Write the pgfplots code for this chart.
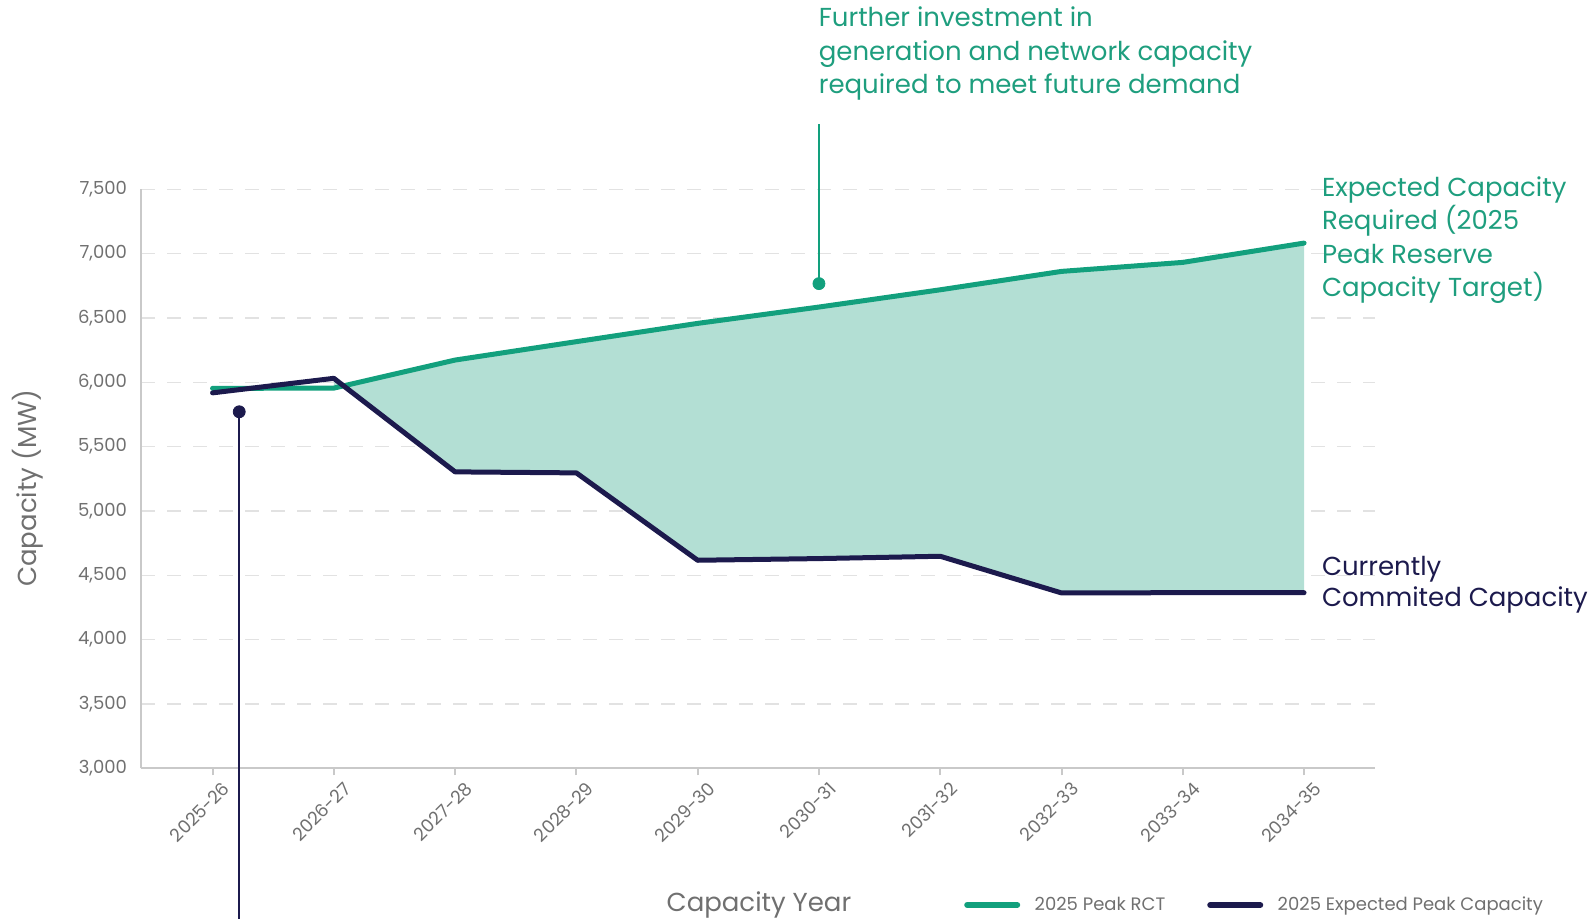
\documentclass[border=0pt]{standalone}
\usepackage{pgfplots}
\pgfplotsset{compat=1.18}
\usepackage{fontspec}
\setmainfont{Poppins}
\definecolor{rctgreen}{HTML}{12A07D}
\definecolor{navyc}{HTML}{1C1A4D}
\definecolor{fillgreen}{HTML}{B3DFD4}
\definecolor{txtgreen}{HTML}{1E9E7E}
\definecolor{axgray}{HTML}{C9C9C9}
\definecolor{gridgray}{HTML}{E2E2E2}
\definecolor{lblgray}{HTML}{707070}
\pgfplotstableread{
x y
0 5953
1 5955
2 6173
3 6316
4 6458
5 6585
6 6719
7 6862
8 6932
9 7082
}\rct
\pgfplotstableread{
x y
0 5918
1 6031
2 5304
3 5296
4 4617
5 4630
6 4648
7 4363
8 4365
9 4365
}\expc
\begin{document}
\begin{tikzpicture}
\path[use as bounding box] (-70.5pt,-74.85pt) rectangle (726.5pt,384.15pt);
\begin{axis}[
  at={(0pt,0pt)}, anchor=south west,
  scale only axis, width=617pt, height=289.5pt,
  xmin=-0.59, xmax=9.585, ymin=3000, ymax=7500,
  clip=false,
  axis x line*=bottom, axis y line*=left,
  axis line style={-, draw=axgray, line width=1pt},
  xtick={0,...,9},
  xticklabels={2025-26,2026-27,2027-28,2028-29,2029-30,2030-31,2031-32,2032-33,2033-34,2034-35},
  ytick={3000,3500,...,7500},
  tick align=outside, major tick length=3.5pt,
  xtick style={draw=axgray, line width=1pt},
  ytick style={draw=none},
  ymajorgrids,
  grid style={dash pattern=on 7pt off 6pt, draw=gridgray, line width=0.8pt},
  /pgf/number format/.cd, 1000 sep={,}, assume math mode=true, /pgfplots/.cd,
  tick label style={font=\fontsize{9}{11}\selectfont, text=lblgray},
  xticklabel style={inner sep=0pt, xshift=4.5pt, yshift=-2.5pt, anchor=north east, rotate=45},
  ylabel={Capacity (MW)},
  ylabel style={at={(axis description cs:-0.092,0.484)}, anchor=center, font=\fontsize{13}{16}\selectfont, text=lblgray},
  xlabel={Capacity Year},
  xlabel style={at={(axis description cs:0.5008,-0.2465)}, anchor=base, font=\fontsize{13}{16}\selectfont, text=lblgray},
  legend style={at={(axis description cs:0.6668,-0.236)}, anchor=west, draw=none, fill=none,
    font=\fontsize{9}{11}\selectfont, text=lblgray, inner sep=0pt,
    /tikz/every even column/.append style={column sep=19pt}},
  legend columns=2, legend cell align=left,
  legend image code/.code={\draw[#1, line width=3pt, line cap=round] (1.5pt,0pt) -- (26.5pt,0pt); \path (32pt,0pt);},
]
% shaded gap
\addplot[fill=fillgreen, draw=none, forget plot] coordinates {
 (1,5955) (2,6173) (3,6316) (4,6458) (5,6585) (6,6719) (7,6862) (8,6932) (9,7082)
 (9,4365) (8,4365) (7,4363) (6,4648) (5,4630) (4,4617) (3,5296) (2,5304) (1,6031)} -- cycle;
% pins
\addplot[navyc, line width=1pt, forget plot] coordinates {(0.22,5771) (0.22,1700)};
\addplot[navyc, only marks, mark=*, mark size=3pt, forget plot] coordinates {(0.22,5771)};
\addplot[rctgreen, line width=1pt, forget plot] coordinates {(5,6767) (5,8007)};
\addplot[rctgreen, only marks, mark=*, mark size=3pt, forget plot] coordinates {(5,6767)};
% series
\addplot[rctgreen, line width=2.5pt, line join=round, line cap=round] table[x=x,y=y] {\rct};
\addlegendentry{2025 Peak RCT}
\addplot[navyc, line width=2.5pt, line join=round, line cap=round] table[x=x,y=y] {\expc};
\addlegendentry{2025 Expected Peak Capacity}
\end{axis}
\begin{scope}[every node/.style={anchor=base west, inner sep=0pt, font=\fontsize{13}{16}\selectfont}]
\node[text=txtgreen] at (338.7pt,370.95pt) {Further investment in};
\node[text=txtgreen] at (338.7pt,354.15pt) {generation and network capacity};
\node[text=txtgreen] at (338.7pt,337.4pt) {required to meet future demand};
\node[text=txtgreen] at (590.3pt,286.05pt) {Expected Capacity};
\node[text=txtgreen] at (590.3pt,269.25pt) {Required (2025};
\node[text=txtgreen] at (590.3pt,252.5pt) {Peak Reserve};
\node[text=txtgreen] at (590.3pt,235.7pt) {Capacity Target)};
\node[text=navyc] at (590.3pt,96.65pt) {Currently};
\node[text=navyc] at (590.3pt,80.8pt) {Commited Capacity};
\end{scope}
\end{tikzpicture}
\end{document}
